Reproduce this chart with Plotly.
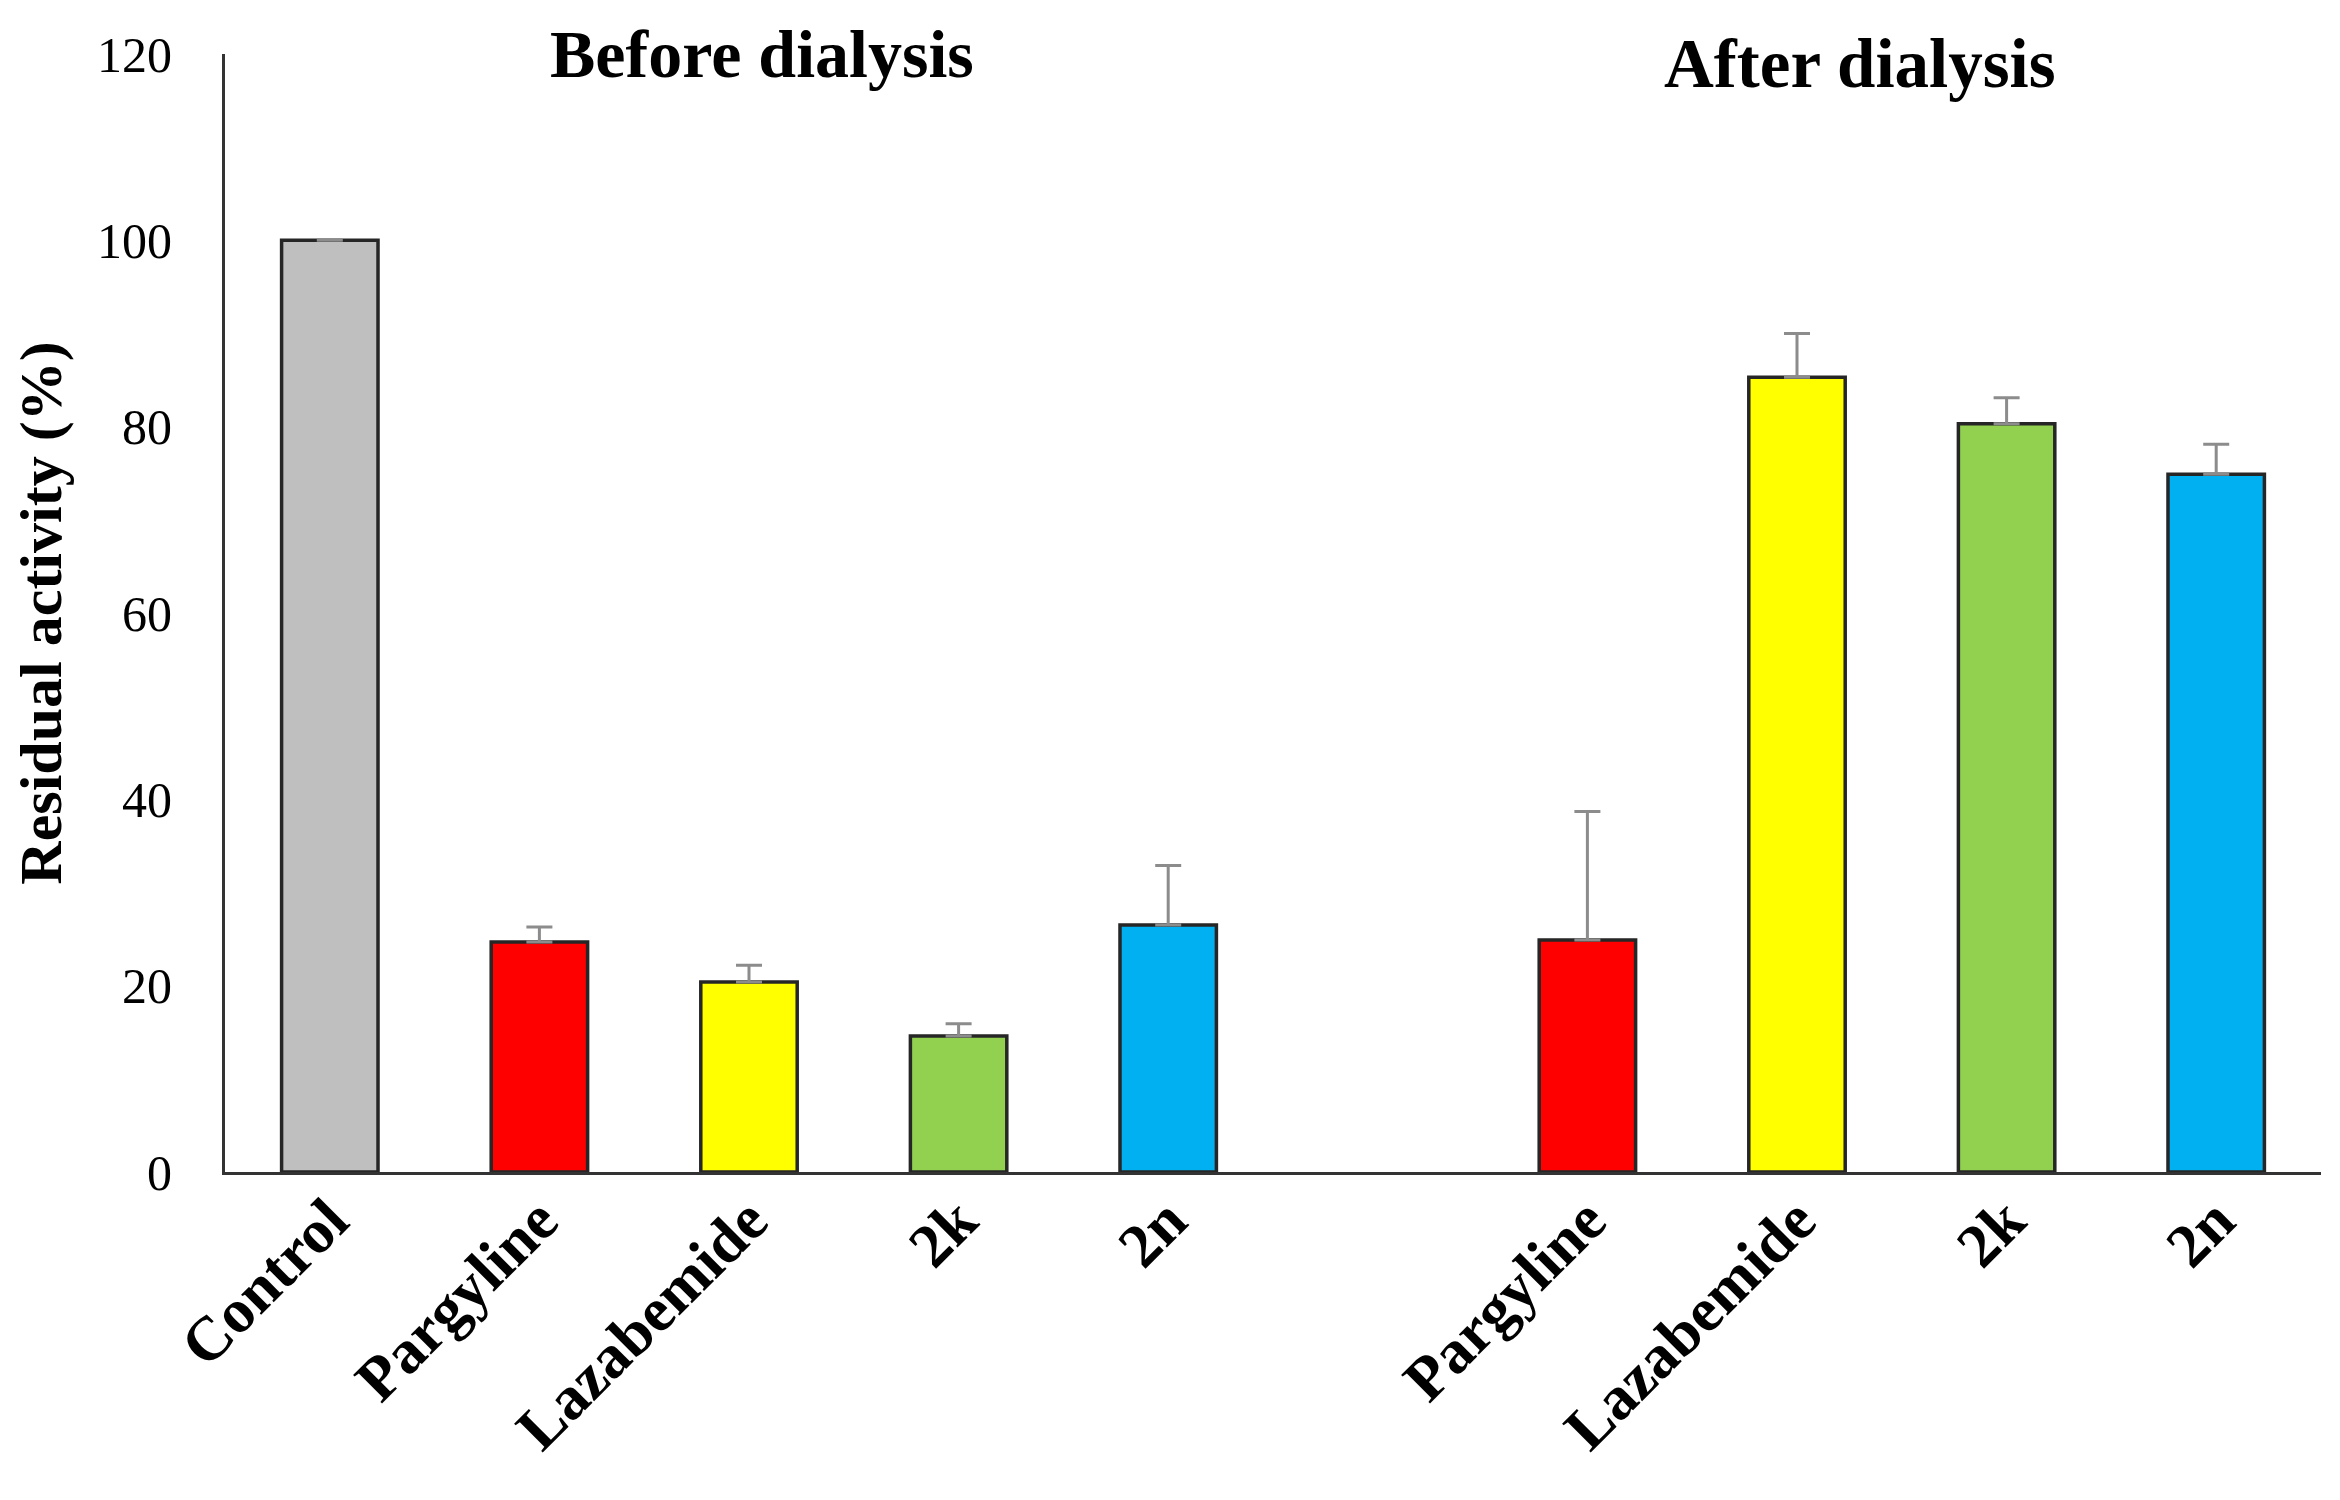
import plotly.graph_objects as go

# ---- data ----
groups = ["Before dialysis"] * 5 + ["After dialysis"] * 4
compounds = ["Control", "Pargyline", "Lazabemide", "2k", "2n",
             "Pargyline", "Lazabemide", "2k", "2n"]
residual_activity = [100.0, 24.7, 20.4, 14.6, 26.5, 24.9, 85.3, 80.3, 74.9]
error_plus = [0.0, 1.6, 1.8, 1.3, 6.4, 13.8, 4.7, 2.8, 3.2]
compound_colors = {
    "Control": "#BFBFBF",
    "Pargyline": "#FF0000",
    "Lazabemide": "#FFFF00",
    "2k": "#92D050",
    "2n": "#00B0F0",
}
y_ticks = [0, 20, 40, 60, 80, 100, 120]
gap_key = "gap"

keys = [f"{g}|{c}" for g, c in zip(groups, compounds)]
before_keys = [k for k, g in zip(keys, groups) if g == "Before dialysis"]
after_keys = [k for k, g in zip(keys, groups) if g == "After dialysis"]
category_order = before_keys + [gap_key] + after_keys

SERIF = "Liberation Serif, Times New Roman, serif"

fig = go.Figure()
fig.add_trace(go.Bar(
    x=keys,
    y=residual_activity,
    marker=dict(color=[compound_colors[c] for c in compounds],
                line=dict(color="#262626", width=3.5)),
    error_y=dict(type="data", symmetric=False, array=error_plus,
                 arrayminus=[0] * len(error_plus),
                 color="#8c8c8c", thickness=3, width=13),
    hoverinfo="x+y",
))
# invisible placeholder so the empty slot between the groups is kept
fig.add_trace(go.Bar(x=[gap_key], y=[0], opacity=0,
                     marker=dict(line=dict(width=0)), hoverinfo="skip"))

fig.update_layout(
    width=2340, height=1500,
    paper_bgcolor="white", plot_bgcolor="white",
    showlegend=False,
    bargap=0.54,
    margin=dict(l=217, r=27, t=46, b=336),
    font=dict(family=SERIF, color="#000000"),
)
fig.update_xaxes(
    type="category",
    categoryorder="array", categoryarray=category_order,
    tickvals=keys, ticktext=[f"<b>{c}</b>" for c in compounds],
    tickangle=-45,
    tickfont=dict(family=SERIF, size=62, color="#000000"),
    showline=True, linecolor="#333333", linewidth=3,
    ticks="", showgrid=False, zeroline=False,
    ticklabelstandoff=-16,
    range=[-0.5, 9.5],
)
fig.update_yaxes(
    range=[0, 120], tickvals=y_ticks,
    tickfont=dict(family=SERIF, size=50, color="#000000"),
    showline=True, linecolor="#333333", linewidth=3,
    ticks="", showgrid=False, zeroline=False,
    ticklabelstandoff=40,
    title=dict(text="<b>Residual activity (%)</b>",
               font=dict(family=SERIF, size=60, color="#000000"),
               standoff=30),
)
fig.add_annotation(text="<b>Before dialysis</b>", x=2.06, xref="x",
                   y=120, yref="y", showarrow=False,
                   font=dict(family=SERIF, size=68, color="#000000"))
fig.add_annotation(text="<b>After dialysis</b>", x=7.3, xref="x",
                   y=118.9, yref="y", showarrow=False,
                   font=dict(family=SERIF, size=69, color="#000000"))

fig.write_html("out.html")
